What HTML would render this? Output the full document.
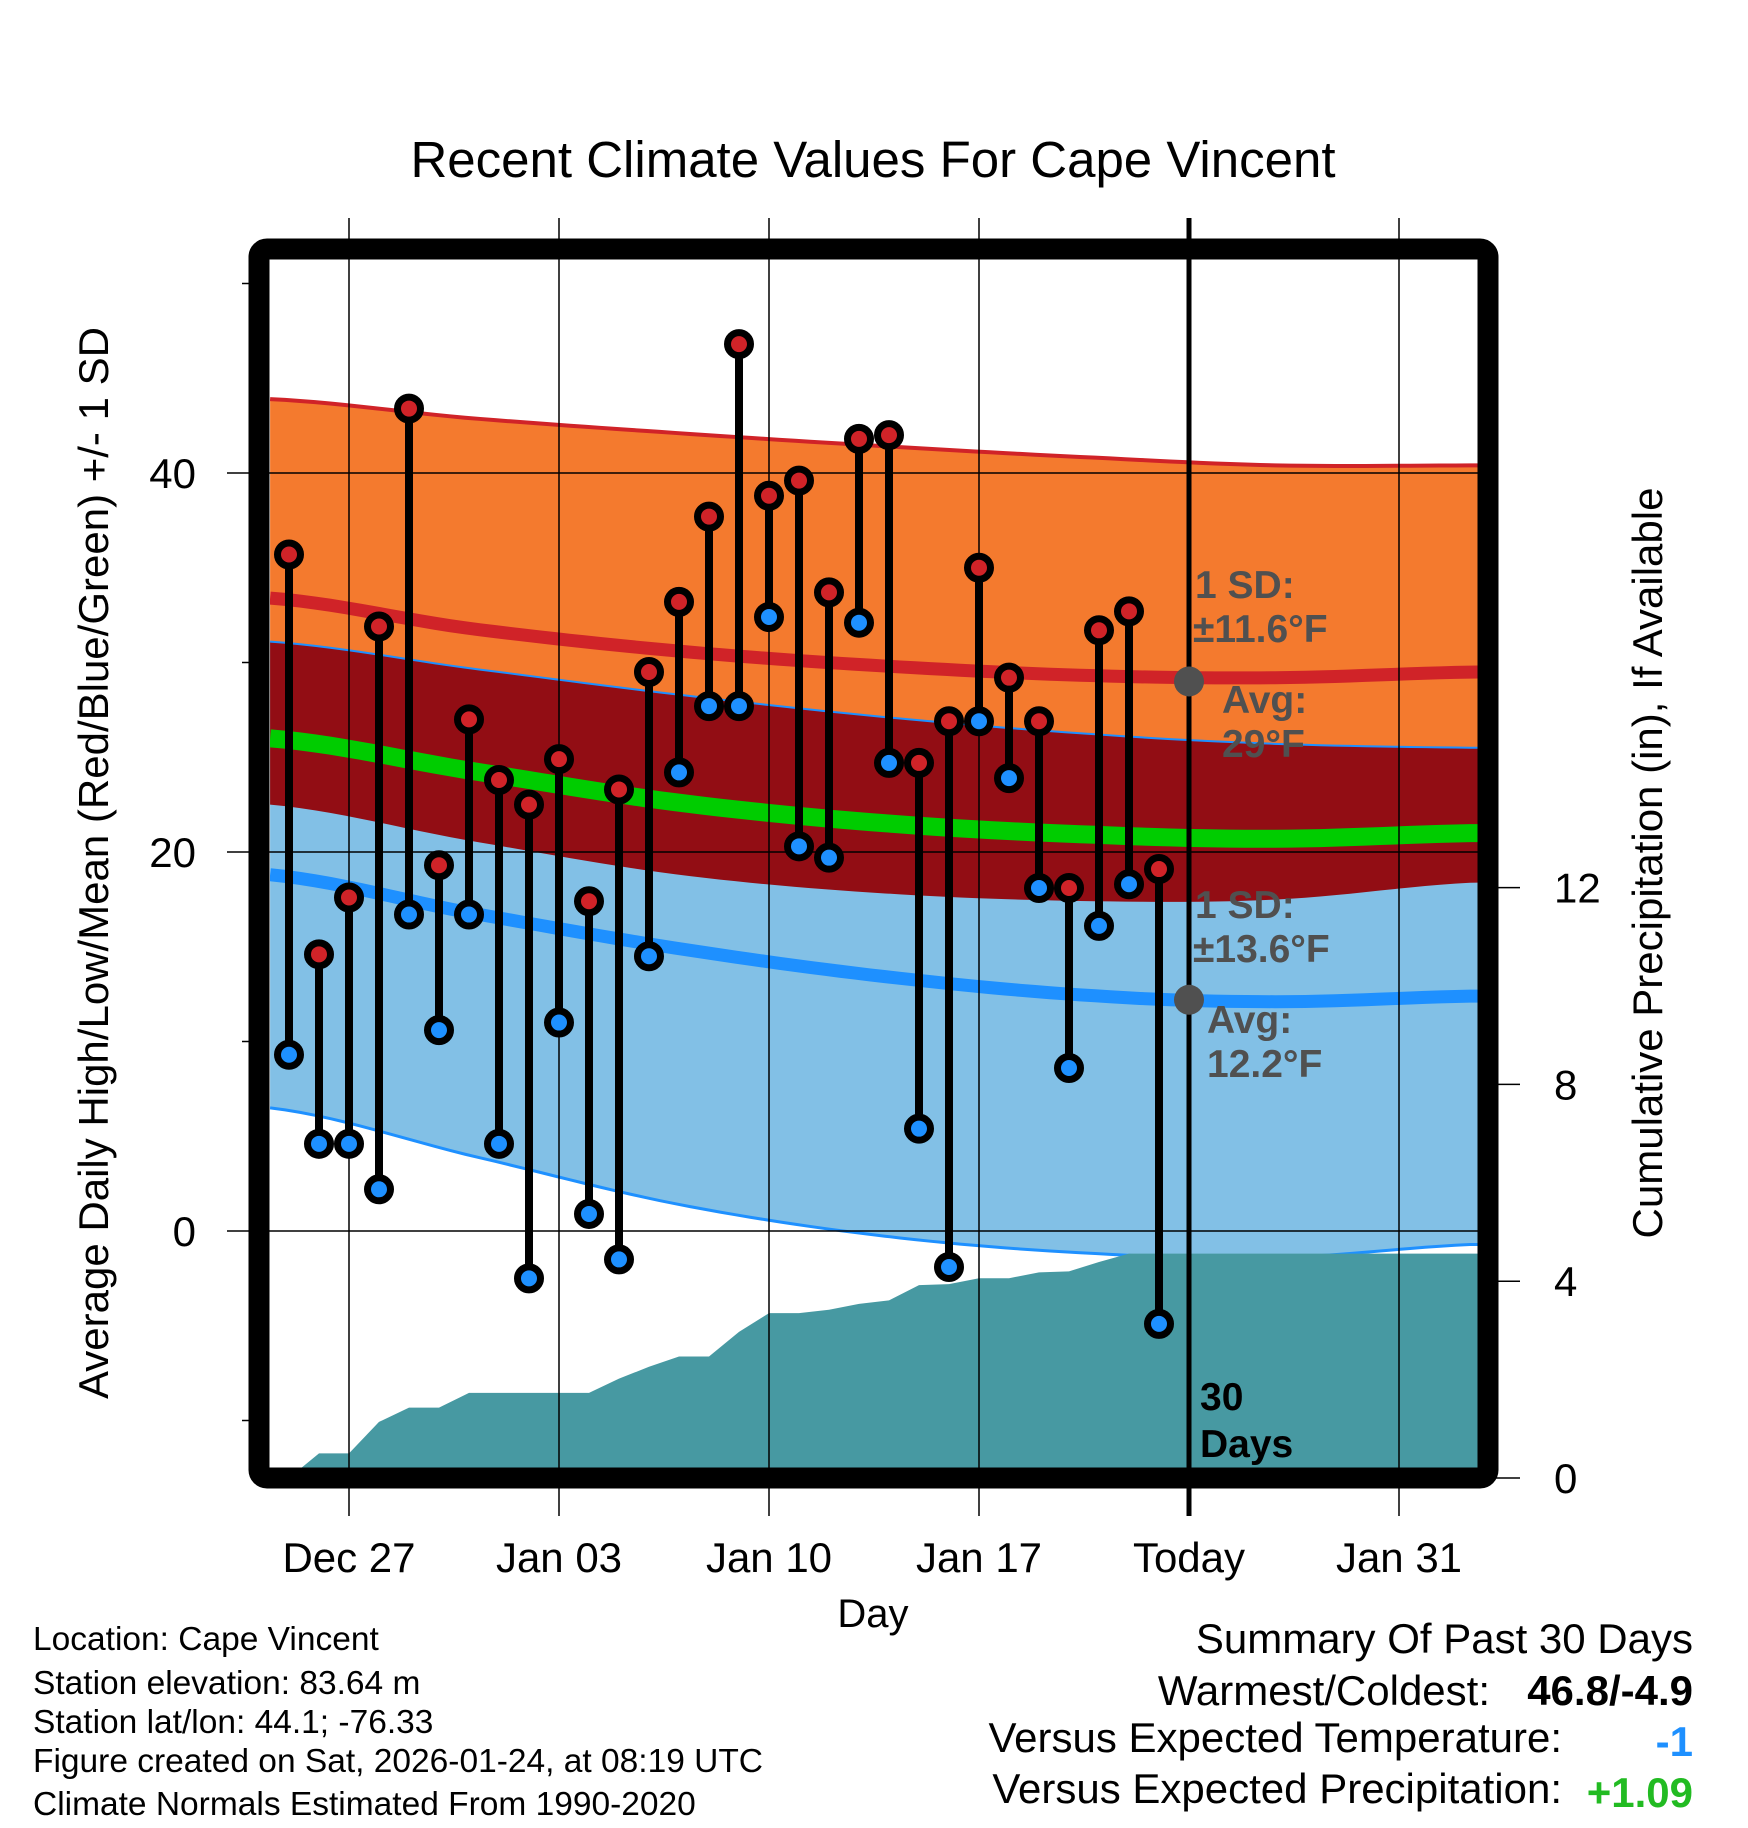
<!DOCTYPE html>
<html><head><meta charset="utf-8"><style>
html,body{margin:0;padding:0;background:#fff;}
svg{display:block;font-family:"Liberation Sans",Arial,sans-serif;}
</style></head><body>
<svg id="chart" width="1748" height="1828" viewBox="0 0 1748 1828" xmlns="http://www.w3.org/2000/svg">
<text x="873" y="177" font-size="51" text-anchor="middle">Recent Climate Values For Cape Vincent</text>
<defs><clipPath id="plotclip"><rect x="270" y="260" width="1208" height="1208"/></clipPath></defs>
<g id="bands" clip-path="url(#plotclip)"></g>
<g id="grid"></g>
<g id="marks"></g>
<g id="frame"></g>
<g id="labels"></g>
<text transform="translate(108,863) rotate(-90)" font-size="42" text-anchor="middle">Average Daily High/Low/Mean (Red/Blue/Green) +/- 1 SD</text>
<text transform="translate(1662,863) rotate(-90)" font-size="42" text-anchor="middle">Cumulative Precipitation (in), If Available</text>
<text x="873" y="1627" font-size="40" text-anchor="middle">Day</text>
<g font-size="33.5">
<text x="33" y="1650">Location: Cape Vincent</text>
<text x="33" y="1694">Station elevation: 83.64 m</text>
<text x="33" y="1733">Station lat/lon: 44.1; -76.33</text>
<text x="33" y="1772">Figure created on Sat, 2026-01-24, at 08:19 UTC</text>
<text x="33" y="1815">Climate Normals Estimated From 1990-2020</text>
</g>
<g font-size="42">
<text x="1693" y="1653" text-anchor="end">Summary Of Past 30 Days</text>
<text x="1490" y="1705" text-anchor="end">Warmest/Coldest:</text>
<text x="1693" y="1705" text-anchor="end" font-weight="bold">46.8/-4.9</text>
<text x="1562" y="1752" text-anchor="end">Versus Expected Temperature:</text>
<text x="1693" y="1756" text-anchor="end" font-weight="bold" fill="#1E90FF">-1</text>
<text x="1562" y="1803" text-anchor="end">Versus Expected Precipitation:</text>
<text x="1693" y="1807" text-anchor="end" font-weight="bold" fill="#22BB22">+1.09</text>
</g>
</svg>
<script>
// ---- data ----
const highs = [35.7,14.6,17.6,31.9,43.4,19.3,27.0,23.8,22.5,24.9,17.4,23.3,29.5,33.2,37.7,46.8,38.8,39.6,33.7,41.8,42.0,24.7,26.9,35.0,29.2,26.9,18.1,31.7,32.7,19.1];
const lows = [9.3,4.6,4.6,2.2,16.7,10.6,16.7,4.6,-2.5,11.0,0.9,-1.5,14.5,24.2,27.7,27.7,32.4,20.3,19.7,32.1,24.7,5.4,-1.9,26.9,23.9,18.1,8.6,16.1,18.3,-4.9];
const precip = [0,0.5,0.5,1.14,1.43,1.43,1.73,1.73,1.73,1.73,1.73,2.02,2.26,2.47,2.47,2.97,3.35,3.35,3.42,3.54,3.61,3.92,3.94,4.06,4.06,4.18,4.20,4.39,4.56,4.56,4.56];
const normDays = [-0.63,6,13,20,27,33,39.63];
const highUpper = [43.9,42.9,42.1,41.4,40.8,40.4,40.4];
const highMean = [33.4,31.8,30.6,29.8,29.3,29.2,29.5];
const highLower = [22.5,20.6,18.8,17.8,17.4,17.5,18.4];
const lowUpper = [31.1,29.7,28.3,27.1,26.2,25.7,25.5];
const lowMean = [18.8,16.8,14.9,13.4,12.4,12.1,12.4];
const lowLower = [6.5,4.0,1.4,-0.3,-1.2,-1.4,-0.7];
const avgMean = [26.0,24.3,22.6,21.5,20.9,20.7,21.0];
const xTickDays = [2,9,16,23,30,37];
const xTickLabels = ["Dec 27","Jan 03","Jan 10","Jan 17","Today","Jan 31"];
const yTicks = [0,20,40];
const yMinor = [-10,10,30,50];
const y2Ticks = [0,4,8,12];
// ---- scales ----
const X = d => 289 + 30*d;
const Y = t => 1231 - 18.95*t;
const Y2 = p => 1478 - 49.2*p;
const NS = "http://www.w3.org/2000/svg";
function mk(tag, attrs, parent){const e=document.createElementNS(NS,tag);for(const k in attrs)e.setAttribute(k,attrs[k]);parent.appendChild(e);return e;}
const bands=document.getElementById('bands'),grid=document.getElementById('grid'),marks=document.getElementById('marks'),frame=document.getElementById('frame'),labels=document.getElementById('labels');
function interp(arr,d){
  for(let i=0;i<normDays.length-1;i++){
    if(d<=normDays[i+1]){const t=(d-normDays[i])/(normDays[i+1]-normDays[i]);
      const p0=arr[Math.max(i-1,0)],p1=arr[i],p2=arr[i+1],p3=arr[Math.min(i+2,arr.length-1)];
      return 0.5*((2*p1)+(-p0+p2)*t+(2*p0-5*p1+4*p2-p3)*t*t+(-p0+3*p1-3*p2+p3)*t*t*t);}
  }
  return arr[arr.length-1];
}
const samp=[];const dEnd=normDays[normDays.length-1];
for(let d=normDays[0];d<dEnd;d+=0.5)samp.push(d);
samp.push(dEnd+0.5);
function line(arr){return samp.map(d=>X(d)+','+Y(interp(arr,d))).join(' ');}
function band(up,lo){return samp.map(d=>X(d)+','+Y(interp(up,d))).concat(samp.slice().reverse().map(d=>X(d)+','+Y(interp(lo,d)))).join(' ');}
let e;
e=mk('polygon',{points:band(highUpper,highLower),fill:'#F47A2E'},bands);


e=mk('polygon',{points:band(lowUpper,lowLower),fill:'#82C0E6'},bands);


e=mk('polygon',{points:band(lowUpper,highLower),fill:'#920D14'},bands);


e=mk('polyline',{points:line(highUpper),fill:'none',stroke:'#D02328','stroke-width':4},bands);


e=mk('polyline',{points:line(lowUpper),fill:'none',stroke:'#1E90FF','stroke-width':2},bands);


e=mk('polyline',{points:line(lowLower),fill:'none',stroke:'#1E90FF','stroke-width':3},bands);


e=mk('polyline',{points:line(highMean),fill:'none',stroke:'#D02328','stroke-width':13},bands);


e=mk('polyline',{points:line(lowMean),fill:'none',stroke:'#1E90FF','stroke-width':13},bands);


e=mk('polyline',{points:line(avgMean),fill:'none',stroke:'#00CC00','stroke-width':18},bands);


// precipitation area
let pts=[X(0)+','+Y2(0)];
precip.forEach((p,i)=>pts.push(X(i)+','+Y2(p)));
pts.push('1478,'+Y2(precip[precip.length-1]));
pts.push('1478,'+Y2(0));
e=mk('polygon',{points:pts.join(' '),fill:'#4799A2'},bands);


// grid
xTickDays.forEach((d,i)=>{
  const g=mk('line',{x1:X(d),x2:X(d),y1:218,y2:1516,stroke:'#000','stroke-width':d===30?5:1.5},grid);
  
  
  const t=mk('text',{x:X(d),y:1572,'font-size':42,'text-anchor':'middle'},labels);
  t.textContent=xTickLabels[i];
  
  
});
yTicks.forEach(v=>{
  const g=mk('line',{x1:227,x2:1478,y1:Y(v),y2:Y(v),stroke:'#000','stroke-width':1.5},grid);
  
  
  const t=mk('text',{x:196,y:Y(v)+15,'font-size':42,'text-anchor':'end'},labels);
  t.textContent=v;
  
  
});
yMinor.forEach(v=>{
  const g=mk('line',{x1:242,x2:260,y1:Y(v),y2:Y(v),stroke:'#000','stroke-width':1.5},grid);
  
  
});
y2Ticks.forEach(v=>{
  const g=mk('line',{x1:1488,x2:1520,y1:Y2(v),y2:Y2(v),stroke:'#000','stroke-width':1.5},grid);
  
  
  const t=mk('text',{x:1554,y:Y2(v)+15,'font-size':42},labels);
  t.textContent=v;
  
  
});
// stems and dots
highs.forEach((h,i)=>{
  const s=mk('line',{x1:X(i),x2:X(i),y1:Y(h),y2:Y(lows[i]),stroke:'#000','stroke-width':8},marks);
  
  
});
highs.forEach((h,i)=>{
  const c=mk('circle',{cx:X(i),cy:Y(h),r:11.5,fill:'#D02328',stroke:'#000','stroke-width':7},marks);
  
  
  const c2=mk('circle',{cx:X(i),cy:Y(lows[i]),r:11.5,fill:'#1E90FF',stroke:'#000','stroke-width':7},marks);
  
  
});
// today markers
e=mk('circle',{cx:X(30),cy:Y(29.0),r:15,fill:'#505050'},marks);


e=mk('circle',{cx:X(30),cy:Y(12.2),r:15,fill:'#505050'},marks);


// annotations
const ann=[["1 SD:",1195,598],["\u00B111.6\u00B0F",1193,642],["Avg:",1222,713],["29\u00B0F",1222,757],["1 SD:",1195,918],["\u00B113.6\u00B0F",1193,962],["Avg:",1207,1033],["12.2\u00B0F",1207,1077]];
ann.forEach(a=>{
  const t=mk('text',{x:a[1],y:a[2],'font-size':39,'font-weight':'bold',fill:'#505050'},marks);
  t.textContent=a[0];
  
  
});
e=mk('text',{x:1200,y:1410,'font-size':39,'font-weight':'bold'},marks);
e.textContent='30';


e=mk('text',{x:1200,y:1457,'font-size':39,'font-weight':'bold'},marks);
e.textContent='Days';


// frame
e=mk('rect',{x:259,y:249,width:1229,height:1229,rx:8,fill:'none',stroke:'#000','stroke-width':21},frame);


</script>
</body></html>
